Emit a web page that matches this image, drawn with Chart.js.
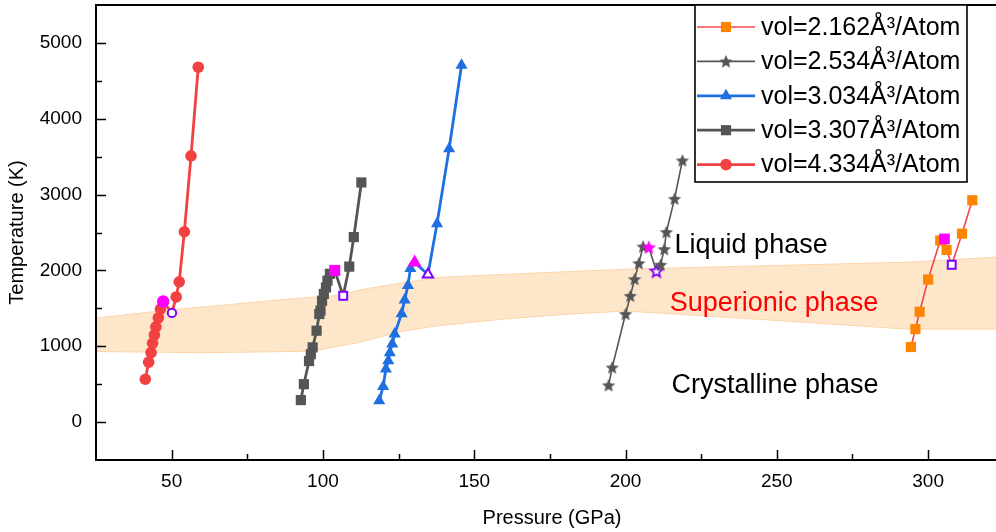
<!DOCTYPE html>
<html>
<head>
<meta charset="utf-8">
<script src="https://cdn.jsdelivr.net/npm/chart.js@4.4.1/dist/chart.umd.min.js"></script>
<style>
  html, body { margin: 0; padding: 0; background: #ffffff; overflow: hidden; }
  /* the plot frame runs a little past the right edge of the visible page */
  #wrap { width: 996px; height: 532px; overflow: hidden; }
</style>
</head>
<body>
<div id="wrap"><canvas id="phase" width="1009" height="532"></canvas></div>
<script>
// ---- axis ticks ----
const pressureTicks = [50, 100, 150, 200, 250, 300];
const temperatureTicks = [0, 1000, 2000, 3000, 4000, 5000];

// ---- series: pressure (GPa) / temperature (K) along each run, in path order ----
// meltIndex  = first liquid point of the heating branch
// reentryIndex = point that drops back after melting
const vol2162P = [294.3, 295.8, 297.2, 300.0, 304.0, 305.4, 306.1, 307.8, 311.2, 314.6];
const vol2162T = [990, 1225, 1455, 1880, 2395, 2415, 2270, 2075, 2485, 2925];
const vol2162Melt = 5, vol2162Reentry = 7;

const vol2534P = [194.4, 195.6, 200.0, 201.6, 203.0, 204.4, 205.8, 207.7, 210.2, 211.6, 212.8, 213.5, 216.2, 218.8];
const vol2534T = [485, 720, 1425, 1665, 1885, 2095, 2315, 2305, 1990, 2075, 2280, 2505, 2945, 3450];
const vol2534Melt = 7, vol2534Reentry = 8;

const vol3034P = [118.6, 119.9, 120.8, 121.6, 122.1, 122.9, 123.7, 126.0, 127.0, 128.1, 128.9, 130.3, 134.7, 137.7, 141.7, 145.8];
const vol3034T = [280, 470, 700, 810, 915, 1030, 1160, 1430, 1610, 1800, 2025, 2105, 1945, 2615, 3605, 4705];
const vol3034Melt = 11, vol3034Reentry = 12;

const vol3307P = [92.7, 93.7, 95.4, 96.0, 96.6, 97.9, 98.8, 99.2, 99.7, 100.3, 101.0, 101.5, 102.3, 103.9, 106.7, 108.7, 110.2, 112.7];
const vol3307T = [290, 500, 805, 895, 985, 1205, 1425, 1470, 1600, 1690, 1775, 1865, 1955, 2000, 1665, 2050, 2440, 3160];
const vol3307Melt = 13, vol3307Reentry = 14;

const vol4334P = [41.3, 42.4, 43.2, 43.7, 44.3, 44.8, 45.6, 46.3, 47.2, 50.1, 51.5, 52.5, 54.2, 56.4, 58.8];
const vol4334T = [565, 790, 915, 1040, 1150, 1255, 1375, 1490, 1590, 1440, 1650, 1850, 2510, 3510, 4680];
const vol4334Melt = 8, vol4334Reentry = 9;

// ---- superionic region boundaries ----
const superionicLowerP = [25, 60, 97, 105, 112, 125, 138, 160, 180, 200, 250, 293, 327];
const superionicLowerT = [930, 915, 935, 1000, 1050, 1190, 1270, 1360, 1420, 1465, 1340, 1226, 1226];
const superionicUpperP = [25, 47, 89, 104, 114, 125, 139, 170, 203, 250, 293, 327];
const superionicUpperT = [1372, 1468, 1623, 1667, 1755, 1830, 1909, 1965, 2020, 2065, 2108, 2185];

// ---- region labels ----
const phaseLabels = [
  { text: 'Liquid phase', p: 216.2, t: 2225, color: '#000000' },
  { text: 'Superionic phase', p: 214.6, t: 1468, color: '#ff0000' },
  { text: 'Crystalline phase', p: 215.2, t: 384, color: '#000000' }
];

const FONT = '"Liberation Sans", Arial, Helvetica, sans-serif';
const MAGENTA = '#ff00ff';
const VIOLET = '#7f00ff';

function starCanvas(outer, fill, stroke, lw) {
  const pad = lw || 0;
  const size = Math.ceil(2 * outer + 2 * pad + 2);
  const c = document.createElement('canvas');
  c.width = c.height = size;
  const g = c.getContext('2d');
  const cx = size / 2, cy = size / 2 + outer * 0.08, inner = outer * 0.45;
  g.beginPath();
  for (let k = 0; k < 10; k++) {
    const r = k % 2 ? inner : outer;
    const a = -Math.PI / 2 + k * Math.PI / 5;
    g.lineTo(cx + r * Math.cos(a), cy + r * Math.sin(a));
  }
  g.closePath();
  g.fillStyle = fill;
  g.fill();
  if (stroke) { g.lineJoin = 'miter'; g.strokeStyle = stroke; g.lineWidth = lw; g.stroke(); }
  return c;
}

const styles = {
  v2162: { line: '#f04848', lineWidth: 1.6, marker: '#ff8400', shape: 'rect', r: 7.2, meltR: 7.6, hollowR: 5.6 },
  v2534: { line: '#555555', lineWidth: 1.6, marker: '#555555', shape: starCanvas(7, '#555555'),
           meltShape: starCanvas(7.5, MAGENTA), hollowShape: starCanvas(6.2, '#ffffff', VIOLET, 1.8), r: 6 },
  v3034: { line: '#1f6fe0', lineWidth: 2.8, marker: '#1f6fe0', shape: 'triangle', r: 7, meltR: 8, hollowR: 6 },
  v3307: { line: '#555555', lineWidth: 2.8, marker: '#555555', shape: 'rect', r: 7.2, meltR: 7.8, hollowR: 5.6 },
  v4334: { line: '#f24141', lineWidth: 2.8, marker: '#f24141', shape: 'circle', r: 5.8, meltR: 6.2, hollowR: 4.2 }
};

function series(label, P, T, melt, reentry, s) {
  return {
    label,
    data: P.map((p, i) => ({ x: p, y: T[i] })),
    showLine: true,
    borderColor: s.line,
    borderWidth: s.lineWidth,
    tension: 0,
    pointStyle: c => {
      if (c.dataIndex === melt) return s.meltShape || s.shape;
      if (c.dataIndex === reentry) return s.hollowShape || s.shape;
      return s.shape;
    },
    pointRadius: c => c.dataIndex === melt ? (s.meltR || s.r) : c.dataIndex === reentry ? (s.hollowR || s.r) : s.r,
    pointBackgroundColor: c => c.dataIndex === melt ? MAGENTA : c.dataIndex === reentry ? '#ffffff' : s.marker,
    pointBorderColor: c => c.dataIndex === reentry ? VIOLET : 'rgba(0,0,0,0)',
    pointBorderWidth: c => c.dataIndex === reentry ? 2 : 0,
    order: 1
  };
}

const legendItems = [
  { text: 'vol=2.162Å³/Atom', s: styles.v2162 },
  { text: 'vol=2.534Å³/Atom', s: styles.v2534 },
  { text: 'vol=3.034Å³/Atom', s: styles.v3034 },
  { text: 'vol=3.307Å³/Atom', s: styles.v3307 },
  { text: 'vol=4.334Å³/Atom', s: styles.v4334 }
];

function drawMarker(ctx, s, x, y) {
  ctx.save();
  ctx.fillStyle = s.marker;
  if (typeof s.shape === 'object') {
    ctx.drawImage(s.shape, x - s.shape.width / 2, y - s.shape.height / 2);
  } else if (s.shape === 'circle') {
    ctx.beginPath(); ctx.arc(x, y, s.r, 0, Math.PI * 2); ctx.fill();
  } else if (s.shape === 'rect') {
    const h = s.r * Math.SQRT1_2;
    ctx.fillRect(x - h, y - h, 2 * h, 2 * h);
  } else if (s.shape === 'triangle') {
    ctx.beginPath();
    for (let k = 0; k < 3; k++) {
      const a = k * 2 * Math.PI / 3;
      ctx.lineTo(x + Math.sin(a) * s.r, y - Math.cos(a) * s.r);
    }
    ctx.closePath(); ctx.fill();
  }
  ctx.restore();
}

// frame, inward tick marks, region labels and the legend box
const decorations = {
  id: 'decorations',
  afterDatasetsDraw(chart) {
    const { ctx, chartArea: a, scales: { x, y } } = chart;
    ctx.save();
    // region labels
    ctx.font = '27px ' + FONT;
    ctx.textAlign = 'left';
    ctx.textBaseline = 'alphabetic';
    phaseLabels.forEach(l => {
      ctx.fillStyle = l.color;
      ctx.fillText(l.text, x.getPixelForValue(l.p), y.getPixelForValue(l.t));
    });
    // tick marks pointing into the plot
    ctx.strokeStyle = '#000';
    ctx.lineWidth = 1.5;
    const xStep = pressureTicks[1] - pressureTicks[0];
    for (let v = pressureTicks[0] - xStep; v <= x.max; v += xStep / 2) {
      const px = Math.round(x.getPixelForValue(v)) + 0.5;
      if (px <= a.left + 1 || px >= a.right - 1) continue;
      const len = pressureTicks.includes(v) ? 10 : 6;
      ctx.beginPath(); ctx.moveTo(px, a.bottom); ctx.lineTo(px, a.bottom - len); ctx.stroke();
    }
    const yStep = temperatureTicks[1] - temperatureTicks[0];
    for (let v = temperatureTicks[0] - yStep; v <= y.max; v += yStep / 2) {
      const py = Math.round(y.getPixelForValue(v)) + 0.5;
      if (py <= a.top + 1 || py >= a.bottom - 1) continue;
      const len = temperatureTicks.includes(v) ? 10 : 6;
      ctx.beginPath(); ctx.moveTo(a.left, py); ctx.lineTo(a.left + len, py); ctx.stroke();
    }
    // frame
    ctx.lineWidth = 2;
    ctx.strokeRect(a.left, a.top, a.right - a.left, a.bottom - a.top);

    // legend
    const boxR = a.left + 871, boxL = boxR - 272, boxT = a.top, boxB = boxT + 177;
    ctx.fillStyle = '#ffffff';
    ctx.fillRect(boxL, boxT, boxR - boxL, boxB - boxT);
    ctx.lineWidth = 1.6;
    ctx.strokeStyle = '#000';
    ctx.strokeRect(boxL, boxT, boxR - boxL, boxB - boxT);
    ctx.font = '25px ' + FONT;
    ctx.textBaseline = 'middle';
    legendItems.forEach((it, i) => {
      const cy = boxT + 22 + i * 34.4;
      ctx.strokeStyle = it.s.line;
      ctx.lineWidth = it.s.lineWidth;
      ctx.beginPath(); ctx.moveTo(boxL + 2, cy); ctx.lineTo(boxL + 60, cy); ctx.stroke();
      drawMarker(ctx, it.s, boxL + 31, cy);
      ctx.fillStyle = '#000';
      ctx.fillText(it.text, boxL + 66, cy + 1);
    });
    ctx.restore();
  }
};

const tickFont = { family: FONT, size: 19 };
const titleFont = { family: FONT, size: 20 };

// keep the plot area fixed: no extra room for overhanging end labels
function fixX(s) { s.height = 72; s.paddingLeft = 0; s.paddingRight = 0; }
function fixY(s) { s.width = 96; s.paddingTop = 0; s.paddingBottom = 0; }

new Chart(document.getElementById('phase'), {
  type: 'scatter',
  data: {
    datasets: [
      series('vol=2.162Å³/Atom', vol2162P, vol2162T, vol2162Melt, vol2162Reentry, styles.v2162),
      series('vol=2.534Å³/Atom', vol2534P, vol2534T, vol2534Melt, vol2534Reentry, styles.v2534),
      series('vol=3.034Å³/Atom', vol3034P, vol3034T, vol3034Melt, vol3034Reentry, styles.v3034),
      series('vol=3.307Å³/Atom', vol3307P, vol3307T, vol3307Melt, vol3307Reentry, styles.v3307),
      series('vol=4.334Å³/Atom', vol4334P, vol4334T, vol4334Melt, vol4334Reentry, styles.v4334),
      {
        label: 'superionic lower',
        data: superionicLowerP.map((p, i) => ({ x: p, y: superionicLowerT[i] })),
        showLine: true, pointRadius: 0, borderColor: '#fdd4a6', borderWidth: 1, fill: false, order: 10
      },
      {
        label: 'superionic upper',
        data: superionicUpperP.map((p, i) => ({ x: p, y: superionicUpperT[i] })),
        showLine: true, pointRadius: 0, borderColor: '#fdd4a6', borderWidth: 1,
        fill: '-1', backgroundColor: 'rgba(253,205,152,0.5)', order: 10
      }
    ]
  },
  options: {
    responsive: false,
    animation: false,
    events: [],
    layout: { autoPadding: false, padding: { left: 0, right: 1, top: 5, bottom: 0 } },
    plugins: { legend: { display: false }, tooltip: { enabled: false } },
    scales: {
      x: {
        type: 'linear', min: 25, max: 326.4,
        afterBuildTicks: s => { s.ticks = pressureTicks.map(v => ({ value: v })); },
        afterFit: fixX,
        grid: { display: false, drawTicks: false },
        border: { display: false },
        ticks: { font: tickFont, color: '#000', padding: 10, maxRotation: 0, autoSkip: false, callback: v => String(v) },
        title: { display: true, text: 'Pressure (GPa)', font: titleFont, color: '#000', padding: { top: 0, bottom: 2 } }
      },
      y: {
        type: 'linear', min: -500, max: 5500,
        afterBuildTicks: s => { s.ticks = temperatureTicks.map(v => ({ value: v })); },
        afterFit: fixY,
        grid: { display: false, drawTicks: false },
        border: { display: false },
        ticks: { font: tickFont, color: '#000', padding: 14, autoSkip: false, callback: v => String(v) },
        title: { display: true, text: 'Temperature (K)', font: titleFont, color: '#000', padding: { top: 5, bottom: 0 } }
      }
    }
  },
  plugins: [decorations]
});
</script>
</body>
</html>
